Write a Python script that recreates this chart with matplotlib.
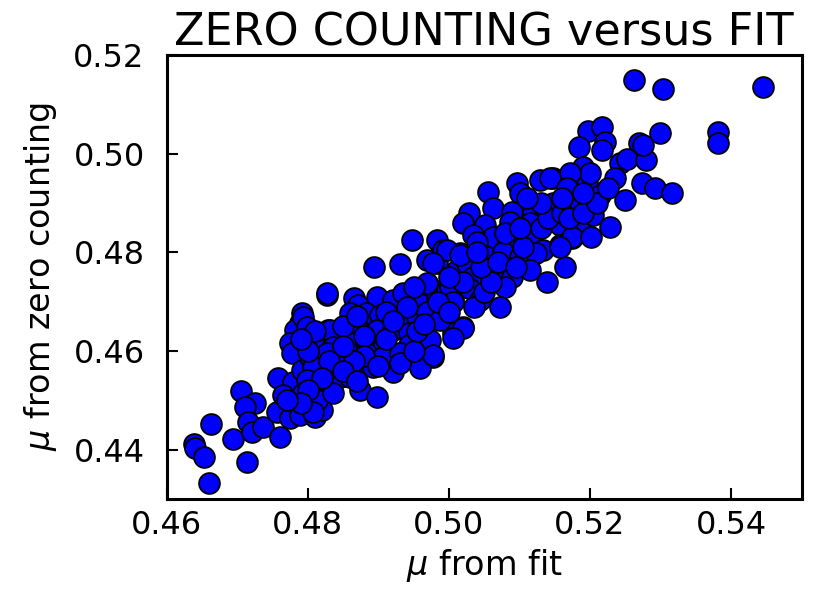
import matplotlib
matplotlib.use("Agg")
import matplotlib.pyplot as plt

# mu from fit (x) and mu from zero counting (y)
mu_fit = [
    0.4638, 0.4640, 0.4652, 0.4660, 0.4662, 0.4694, 0.4713, 0.4705, 0.4725, 0.4711,
    0.4715, 0.4720, 0.4736, 0.4756, 0.4760, 0.4774, 0.4757, 0.4779, 0.4764, 0.4789,
    0.4810, 0.4791, 0.4789, 0.4781, 0.4774, 0.4777, 0.4827, 0.4828, 0.4827, 0.4810,
    0.4791, 0.4817, 0.4814, 0.4820,
    0.4947, 0.4983, 0.4893, 0.4930, 0.4827, 0.4866, 0.4871, 0.4898, 0.4920, 0.4935,
    0.4959, 0.4970, 0.4983, 0.4997, 0.5005, 0.4969, 0.4983, 0.4991, 0.5015, 0.5011,
    0.5025, 0.4859, 0.4883, 0.4902, 0.4930, 0.4954, 0.4977, 0.4991, 0.5020, 0.5005,
    0.4793, 0.4798, 0.4831, 0.4869, 0.4898, 0.4920, 0.4944, 0.4973, 0.4807, 0.4835,
    0.4859, 0.4883, 0.4906, 0.4944, 0.4803, 0.4827, 0.4849, 0.4883, 0.4906, 0.4930,
    0.4954, 0.4977, 0.4807, 0.4841, 0.4864, 0.4892, 0.4920, 0.4959, 0.4798, 0.4817,
    0.4845, 0.4874, 0.4898, 0.4813, 0.4835, 0.4793, 0.4807, 0.4859,
    0.5129, 0.5147, 0.5171, 0.5190, 0.5195, 0.5055, 0.5096, 0.5100, 0.5029, 0.5062,
    0.5089, 0.5119, 0.5147, 0.5175, 0.5020, 0.5051, 0.5086, 0.5115, 0.5157, 0.5185,
    0.5034, 0.5062, 0.5083, 0.5117, 0.5133, 0.5157, 0.5175, 0.4997, 0.5015, 0.5055,
    0.5076, 0.5100, 0.5124, 0.5164, 0.5139, 0.4977, 0.5034, 0.5065, 0.5090, 0.5115,
    0.4969, 0.5001, 0.5029, 0.5079, 0.5005, 0.5044, 0.5072, 0.4969, 0.4987, 0.5020,
    0.5005, 0.4977,
    0.5197, 0.5217, 0.5221, 0.5185, 0.5217, 0.5270, 0.5299, 0.5242, 0.5253, 0.5280,
    0.5190, 0.5200, 0.5171, 0.5235, 0.5273, 0.5292, 0.5316, 0.5143, 0.5168, 0.5214,
    0.5249, 0.5178, 0.5204, 0.5228, 0.5175, 0.5202, 0.5157,
    0.5303, 0.5445, 0.5382, 0.5382, 0.5263, 0.5275,
    0.4850, 0.4880, 0.4910, 0.4880, 0.4865, 0.4900, 0.4930, 0.4950, 0.4955, 0.4965,
    0.4985, 0.5000, 0.5035, 0.5050, 0.5060, 0.5045, 0.5070, 0.5095, 0.5105, 0.5080,
    0.5100, 0.5130, 0.5140, 0.5130, 0.5110, 0.5160, 0.5170, 0.5190, 0.5210, 0.5225,
    0.5190, 0.5160, 0.5040, 0.5040, 0.5020, 0.5000, 0.4950, 0.4940, 0.4910, 0.4920,
    0.4870, 0.4850, 0.4830, 0.4850, 0.4870, 0.4820, 0.4800, 0.4790, 0.4770, 0.4800,
    0.4810, 0.4790,
]
mu_zero = [
    0.4411, 0.4403, 0.4385, 0.4332, 0.4452, 0.4422, 0.4375, 0.4519, 0.4495, 0.4487,
    0.4456, 0.4436, 0.4446, 0.4476, 0.4426, 0.4464, 0.4545, 0.4537, 0.4511, 0.4470,
    0.4466, 0.4677, 0.4657, 0.4643, 0.4616, 0.4596, 0.4714, 0.4643, 0.4608, 0.4582,
    0.4562, 0.4527, 0.4495, 0.4480,
    0.4825, 0.4825, 0.4770, 0.4776, 0.4718, 0.4707, 0.4693, 0.4709, 0.4703, 0.4718,
    0.4709, 0.4734, 0.4709, 0.4724, 0.4703, 0.4784, 0.4778, 0.4805, 0.4799, 0.4764,
    0.4778, 0.4677, 0.4677, 0.4673, 0.4669, 0.4669, 0.4667, 0.4683, 0.4649, 0.4637,
    0.4669, 0.4649, 0.4643, 0.4649, 0.4643, 0.4643, 0.4637, 0.4622, 0.4622, 0.4608,
    0.4616, 0.4616, 0.4606, 0.4612, 0.4588, 0.4596, 0.4588, 0.4596, 0.4588, 0.4596,
    0.4582, 0.4588, 0.4568, 0.4555, 0.4568, 0.4568, 0.4557, 0.4566, 0.4541, 0.4527,
    0.4547, 0.4521, 0.4507, 0.4501, 0.4515, 0.4515, 0.4476, 0.4547,
    0.4947, 0.4951, 0.4926, 0.4967, 0.4941, 0.4922, 0.4941, 0.4920, 0.4880, 0.4890,
    0.4882, 0.4880, 0.4900, 0.4892, 0.4860, 0.4855, 0.4862, 0.4860, 0.4855, 0.4851,
    0.4835, 0.4831, 0.4819, 0.4829, 0.4805, 0.4815, 0.4829, 0.4805, 0.4795, 0.4791,
    0.4801, 0.4791, 0.4799, 0.4770, 0.4740, 0.4778, 0.4750, 0.4758, 0.4750, 0.4764,
    0.4738, 0.4730, 0.4728, 0.4730, 0.4699, 0.4703, 0.4689, 0.4679, 0.4663, 0.4647,
    0.4626, 0.4592,
    0.5046, 0.5054, 0.5024, 0.5014, 0.5007, 0.5022, 0.5042, 0.4981, 0.4989, 0.4987,
    0.4973, 0.4961, 0.4961, 0.4951, 0.4941, 0.4930, 0.4920, 0.4951, 0.4930, 0.4916,
    0.4906, 0.4892, 0.4876, 0.4851, 0.4831, 0.4831, 0.4811,
    0.5131, 0.5135, 0.5044, 0.5022, 0.5149, 0.5018,
    0.4650, 0.4630, 0.4625, 0.4590, 0.4580, 0.4570, 0.4575, 0.4600, 0.4640, 0.4655,
    0.4700, 0.4680, 0.4690, 0.4720, 0.4740, 0.4770, 0.4780, 0.4770, 0.4810, 0.4840,
    0.4850, 0.4850, 0.4870, 0.4900, 0.4910, 0.4880, 0.4870, 0.4880, 0.4900, 0.4930,
    0.4920, 0.4910, 0.4820, 0.4800, 0.4740, 0.4750, 0.4730, 0.4690, 0.4680, 0.4660,
    0.4670, 0.4610, 0.4580, 0.4560, 0.4540, 0.4545, 0.4520, 0.4495, 0.4500, 0.4600,
    0.4640, 0.4625,
]

x_ticks = [0.46, 0.48, 0.50, 0.52, 0.54]
y_ticks = [0.44, 0.46, 0.48, 0.50, 0.52]

fig = plt.figure(figsize=(8.18, 5.91), dpi=100)
ax = fig.add_axes([0.204, 0.1557, 0.776, 0.7513])
ax.scatter(mu_fit, mu_zero, s=225, c="#0000ff", edgecolors="black", linewidths=1.3, zorder=3)
ax.set_xlim(0.46, 0.55)
ax.set_ylim(0.43, 0.52)
ax.set_xticks(x_ticks)
ax.set_yticks(y_ticks)
ax.set_xticklabels([f"{t:.2f}" for t in x_ticks])
ax.set_yticklabels([f"{t:.2f}" for t in y_ticks])
ax.tick_params(direction="in", length=8, width=1.5, labelsize=23,
               top=False, right=False)
ax.tick_params(axis="x", pad=8)
ax.tick_params(axis="y", pad=16)
for sp in ax.spines.values():
    sp.set_linewidth(2.2)
ax.set_xlabel(r"$\mu$ from fit", fontsize=24, labelpad=4)
ax.set_ylabel(r"$\mu$ from zero counting", fontsize=24, labelpad=10)
ax.set_title("ZERO COUNTING versus FIT", fontsize=32, pad=3)
fig.savefig("out.png", dpi=100)
